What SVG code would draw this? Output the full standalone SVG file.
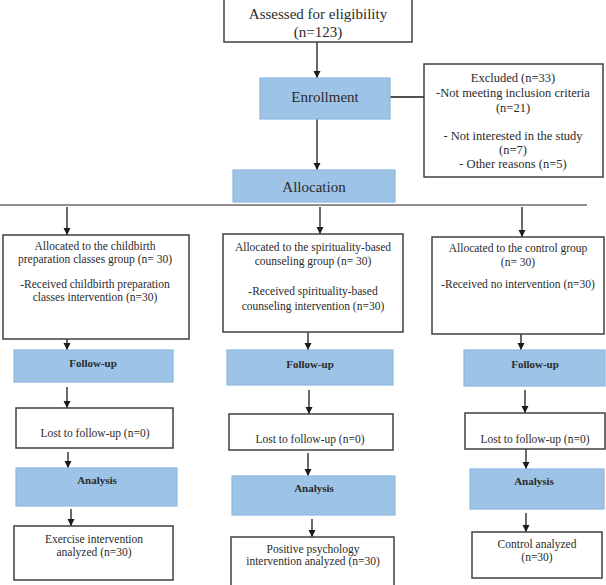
<svg xmlns="http://www.w3.org/2000/svg" width="606" height="585" viewBox="0 0 606 585">
<style>
.box{fill:#ffffff;stroke:#404040;stroke-width:1.5}
.blue{fill:#9DC3E6;stroke:#8DB8E2;stroke-width:1.2}
.t{font-family:"Liberation Serif","Times New Roman",serif;fill:#2b2b2b;text-anchor:middle}
.big{font-size:15px}
.sm{font-size:11.5px}
.ex{font-size:12.5px}
.b{font-size:11px;font-weight:bold}
.c{stroke:#1a1a1a;stroke-width:1.3;fill:none}
</style>
<defs>
<marker id="ah" markerUnits="userSpaceOnUse" markerWidth="8" markerHeight="8" refX="4" refY="7" orient="auto-start-reverse" viewBox="0 0 8 8">
<path d="M0,0 L8,0 L4,7 Z" fill="#1a1a1a" transform="rotate(-90 4 4)"/>
</marker>
<marker id="dn" markerUnits="userSpaceOnUse" markerWidth="8" markerHeight="8" refX="4" refY="7" viewBox="0 0 8 8">
<path d="M0.5,0 L7.5,0 L4,7 Z" fill="#1a1a1a"/>
</marker>
</defs>

<g id="connectors">
<line class="c" x1="317" y1="42" x2="317" y2="78" marker-end="url(#dn)"/>
<line class="c" x1="390" y1="97" x2="424" y2="97"/>
<line class="c" x1="317" y1="119" x2="317" y2="170" marker-end="url(#dn)"/>
<line x1="0" y1="205" x2="587" y2="205" stroke="#6a6a6a" stroke-width="1.5"/>
<line class="c" x1="67" y1="207" x2="67" y2="235" marker-end="url(#dn)"/>
<line class="c" x1="320" y1="207" x2="320" y2="234" marker-end="url(#dn)"/>
<line class="c" x1="522" y1="207" x2="522" y2="237" marker-end="url(#dn)"/>
<line class="c" x1="67" y1="339" x2="67" y2="350" marker-end="url(#dn)"/>
<line class="c" x1="308" y1="332" x2="308" y2="350" marker-end="url(#dn)"/>
<line class="c" x1="521" y1="334" x2="521" y2="350" marker-end="url(#dn)"/>
<line class="c" x1="67" y1="387" x2="67" y2="408" marker-end="url(#dn)"/>
<line class="c" x1="309" y1="390" x2="309" y2="414" marker-end="url(#dn)"/>
<line class="c" x1="525" y1="390" x2="525" y2="413" marker-end="url(#dn)"/>
<line class="c" x1="68" y1="452" x2="68" y2="468" marker-end="url(#dn)"/>
<line class="c" x1="308" y1="453" x2="308" y2="476" marker-end="url(#dn)"/>
<line class="c" x1="526" y1="449" x2="526" y2="469" marker-end="url(#dn)"/>
<line class="c" x1="71" y1="509" x2="71" y2="526" marker-end="url(#dn)"/>
<line class="c" x1="312" y1="519" x2="312" y2="537" marker-end="url(#dn)"/>
<line class="c" x1="526" y1="513" x2="526" y2="532" marker-end="url(#dn)"/>
</g>

<g id="assessed">
<rect class="box" x="224" y="-1" width="188" height="43"/>
<text class="t big" x="318" y="19">Assessed for eligibility</text>
<text class="t big" x="318" y="37">(n=123)</text>
</g>
<g id="enrollment">
<rect class="blue" x="260" y="78" width="130" height="41"/>
<text class="t big" x="325" y="102">Enrollment</text>
</g>
<g id="excluded">
<rect class="box" x="424" y="64" width="179" height="113"/>
<text class="t ex" x="513" y="82">Excluded (n=33)</text>
<text class="t ex" x="513" y="97">-Not meeting inclusion criteria</text>
<text class="t ex" x="513" y="112">(n=21)</text>
<text class="t ex" x="513" y="140">- Not interested in the study</text>
<text class="t ex" x="513" y="154">(n=7)</text>
<text class="t ex" x="513" y="168">- Other reasons (n=5)</text>
</g>
<g id="allocation">
<rect class="blue" x="233" y="170" width="162" height="32"/>
<text class="t big" x="314" y="192">Allocation</text>
</g>

<g id="group1">
<rect class="box" x="3" y="235" width="186" height="104"/>
<text class="t sm" x="95" y="250">Allocated to the childbirth</text>
<text class="t sm" x="95" y="263">preparation classes group (n= 30)</text>
<text class="t sm" x="95" y="288">-Received childbirth preparation</text>
<text class="t sm" x="95" y="301">classes intervention (n=30)</text>
</g>
<g id="group2">
<rect class="box" x="223" y="234" width="180" height="98"/>
<text class="t sm" x="313" y="251">Allocated to the spirituality-based</text>
<text class="t sm" x="313" y="265">counseling group (n= 30)</text>
<text class="t sm" x="313" y="295">-Received spirituality-based</text>
<text class="t sm" x="313" y="310">counseling intervention (n=30)</text>
</g>
<g id="group3">
<rect class="box" x="432" y="237" width="172" height="97"/>
<text class="t sm" x="518" y="252">Allocated to the control group</text>
<text class="t sm" x="518" y="266">(n= 30)</text>
<text class="t sm" x="518" y="288">-Received no intervention (n=30)</text>
</g>

<g id="followup1">
<rect class="blue" x="14" y="350" width="159" height="32"/>
<text class="t b" x="93" y="367">Follow-up</text>
</g>
<g id="followup2">
<rect class="blue" x="227" y="350" width="166" height="35"/>
<text class="t b" x="310" y="368">Follow-up</text>
</g>
<g id="followup3">
<rect class="blue" x="464" y="350" width="141" height="36"/>
<text class="t b" x="535" y="368">Follow-up</text>
</g>

<g id="lost1">
<rect class="box" x="16" y="408" width="157" height="40"/>
<text class="t sm" x="95" y="437">Lost to follow-up (n=0)</text>
</g>
<g id="lost2">
<rect class="box" x="229" y="414" width="164" height="36"/>
<text class="t sm" x="310" y="443">Lost to follow-up (n=0)</text>
</g>
<g id="lost3">
<rect class="box" x="465" y="413" width="140" height="36"/>
<text class="t sm" x="535" y="443">Lost to follow-up (n=0)</text>
</g>

<g id="analysis1">
<rect class="blue" x="16" y="468" width="161" height="38"/>
<text class="t b" x="97" y="484">Analysis</text>
</g>
<g id="analysis2">
<rect class="blue" x="232" y="476" width="163" height="39"/>
<text class="t b" x="314" y="492">Analysis</text>
</g>
<g id="analysis3">
<rect class="blue" x="470" y="469" width="134" height="40"/>
<text class="t b" x="534" y="485">Analysis</text>
</g>

<g id="final1">
<rect class="box" x="14" y="526" width="159" height="54"/>
<text class="t sm" x="94" y="543">Exercise intervention</text>
<text class="t sm" x="94" y="556">analyzed (n=30)</text>
</g>
<g id="final2">
<rect class="box" x="231" y="537" width="163" height="50"/>
<text class="t sm" x="313" y="553">Positive psychology</text>
<text class="t sm" x="313" y="565">intervention analyzed (n=30)</text>
</g>
<g id="final3">
<rect class="box" x="472" y="532" width="130" height="46"/>
<text class="t sm" x="537" y="548">Control analyzed</text>
<text class="t sm" x="537" y="561">(n=30)</text>
</g>
</svg>
